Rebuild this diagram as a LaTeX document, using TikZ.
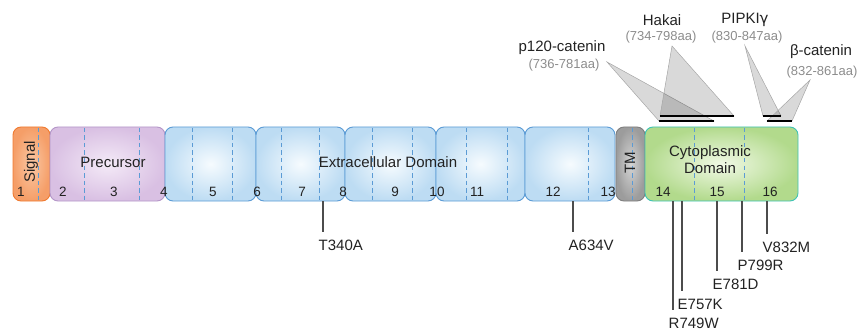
\documentclass[tikz,border=0pt]{standalone}
\usepackage{fontspec}
\setmainfont{Liberation Sans}
\definecolor{sigB}{HTML}{F07A30}\definecolor{sigIn}{HTML}{FAC8A4}\definecolor{sigOut}{HTML}{F59E68}
\definecolor{precB}{HTML}{B496C8}\definecolor{precIn}{HTML}{F4EAF7}\definecolor{precOut}{HTML}{D9C0E3}
\definecolor{bluB}{HTML}{5B9BD5}\definecolor{bluIn}{HTML}{F6FBFE}\definecolor{bluOut}{HTML}{BDDCF3}
\definecolor{tmB}{HTML}{7F7F7F}\definecolor{tmIn}{HTML}{D4D4D4}\definecolor{tmOut}{HTML}{9C9C9C}
\definecolor{cytB}{HTML}{3EC3B5}\definecolor{cytIn}{HTML}{F1F9E6}\definecolor{cytOut}{HTML}{B2DA8C}
\definecolor{dashc}{HTML}{5B9BD5}
\definecolor{txt}{HTML}{222222}
\definecolor{gtxt}{HTML}{8C8C8C}
\begin{document}
\begin{tikzpicture}[x=1pt,y=-1pt,
  dom/.style={draw, rounded corners=8pt, minimum height=74pt, inner sep=0pt, line width=0.9pt},
  sigbox/.style={dom, draw=sigB, inner color=sigIn, outer color=sigOut},
  precbox/.style={dom, draw=precB, inner color=precIn, outer color=precOut},
  blubox/.style={dom, draw=bluB, inner color=bluIn, outer color=bluOut},
  tmbox/.style={dom, draw=tmB, inner color=tmIn, outer color=tmOut},
  cytbox/.style={dom, draw=cytB, inner color=cytIn, outer color=cytOut},
  dline/.style={draw=dashc, line width=0.9pt, dash pattern=on 4.5pt off 3pt},
  num/.style={font=\fontsize{13.5}{15}\selectfont, text=txt, inner sep=0pt},
  lbl/.style={font=\fontsize{15}{17}\selectfont, text=txt, inner sep=0pt, align=center},
  mut/.style={draw=black!70, line width=1.2pt},
  mlab/.style={font=\fontsize{15}{17}\selectfont, text=txt, inner sep=0pt, anchor=base west},
  tri/.style={fill=black, fill opacity=0.15, draw=black!35, line width=0.5pt},
  bar/.style={draw=black, line width=2.4pt},
  plab/.style={font=\fontsize{15}{17}\selectfont, text=txt, inner sep=0pt},
  glab/.style={font=\fontsize{13}{15}\selectfont, text=gtxt, inner sep=0pt}]
\useasboundingbox (0,0) rectangle (858,331);
% domain boxes
\node[sigbox,  minimum width=37pt]  (sig)  at (31.5,164) {};
\node[precbox, minimum width=115pt] (prec) at (107.5,164) {};
\node[blubox,  minimum width=91pt]  (b1)   at (210.5,164) {};
\node[blubox,  minimum width=89pt]  (b2)   at (300.5,164) {};
\node[blubox,  minimum width=91pt]  (b3)   at (390.5,164) {};
\node[blubox,  minimum width=89pt]  (b4)   at (480.5,164) {};
\node[blubox,  minimum width=90pt]  (b5)   at (570,164) {};
\node[tmbox,   minimum width=29pt]  (tm)   at (630.5,164) {};
\node[cytbox,  minimum width=153pt] (cyt)  at (721.5,164) {};
% dashed exon boundaries
\foreach \x in {38,84,139,192,232,281,319,372,412,466,507,588,632,694,744}
  \draw[dline] (\x,128) -- (\x,200);
% labels
\node[lbl, rotate=90] (tsig) at (31,162) {Signal};
\node[lbl] (tprec) at (113,162) {Precursor};
\node[lbl] (text) at (388,162) {Extracellular Domain};
\node[lbl, rotate=90] (ttm) at (630,163) {TM};
\node[lbl] (tcyt) at (710,160) {Cytoplasmic\\Domain};
% exon numbers
\foreach \x/\n in {21/1,63/2,114/3,164/4,213/5,257/6,302/7,343/8,395/9,437/10,477/11,553/12,608/13,663/14,717/15,770/16}
  \node[num] (n\n) at (\x,192) {\n};
% mutations
\foreach \x/\y/\t in {323/232/T340A,573/232/A634V,673/310/R749W,682/291/E757K,717/271/E781D,742/252/P799R,767/234/V832M}{
  \coordinate (m\t) at (\x,\y);
  \draw[mut] (m\t |- cyt.south) -- (m\t);
  \node[mlab] (l\t) at ([xshift=-4.5pt,yshift=-18pt]m\t) {\t};
}
% binding regions
\coordinate (hA1) at (660,116); \coordinate (hA2) at (734,116);
\coordinate (pB1) at (659,121); \coordinate (pB2) at (714,121);
\coordinate (kC1) at (763,116); \coordinate (kC2) at (781,116);
\coordinate (bD1) at (767,121); \coordinate (bD2) at (792,121);
\coordinate (apP) at (607,62);
\coordinate (apH) at (672,46);
\coordinate (apK) at (745,46);
\coordinate (apB) at (810,80);
\draw[tri] (apP) -- (pB1) -- (pB2) -- cycle;
\draw[tri] (apH) -- (hA1) -- (hA2) -- cycle;
\draw[tri] (apK) -- (kC1) -- (kC2) -- cycle;
\draw[tri] (apB) -- (bD1) -- (bD2) -- cycle;
\draw[bar] (hA1) -- (hA2);
\draw[bar] (pB1) -- (pB2);
\draw[bar] (kC1) -- (kC2);
\draw[bar] (bD1) -- (bD2);
\node[plab] (p120) at (562,48) {p120-catenin};
\node[glab] (p120a) at (564,65) {(736-781aa)};
\node[plab] (hak) at (662,20) {Hakai};
\node[glab] (haka) at (661,37) {(734-798aa)};
\node[plab] (pip) at (745,20) {PIPKI\fontspec{DejaVu Sans}γ};
\node[glab] (pipa) at (747,37) {(830-847aa)};
\node[plab] (bcat) at (821,52) {β-catenin};
\node[glab] (bcata) at (822,72) {(832-861aa)};
\end{tikzpicture}
\end{document}
